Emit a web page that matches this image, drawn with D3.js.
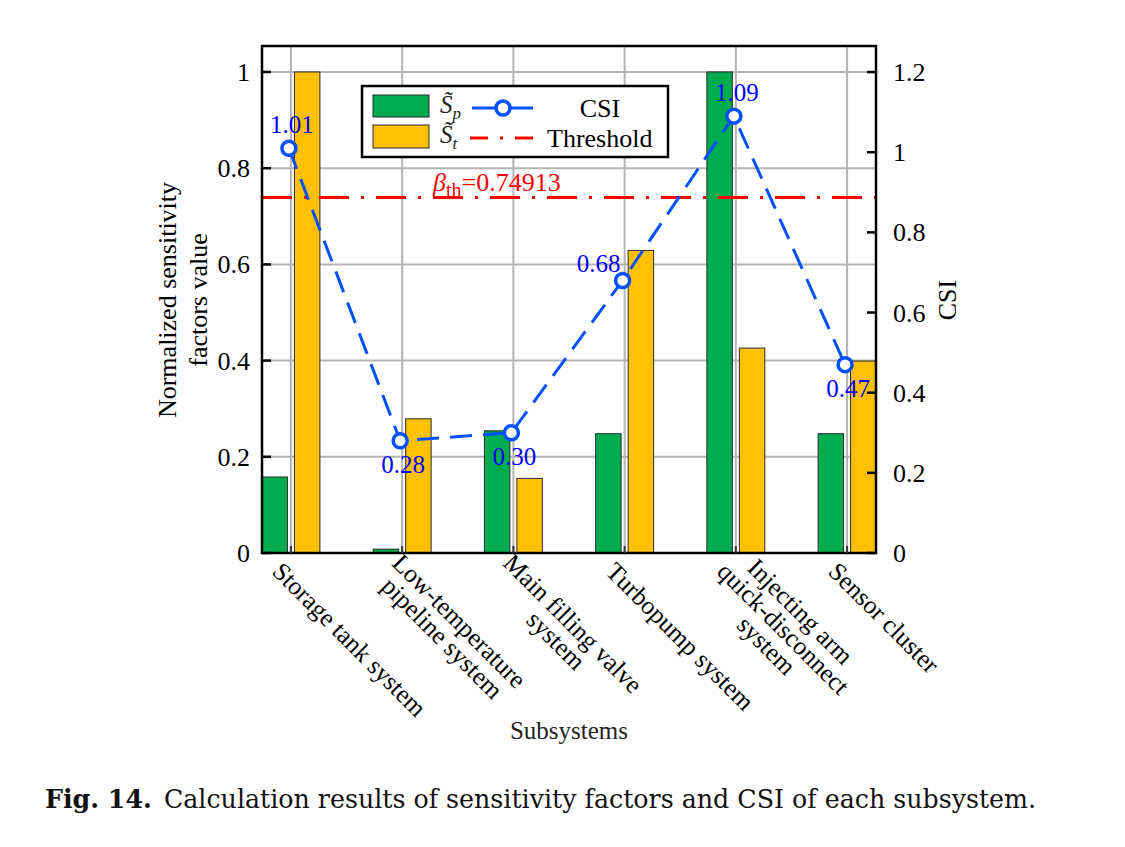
<!DOCTYPE html>
<html>
<head>
<meta charset="utf-8" />
<script src="https://d3js.org/d3.v7.min.js"></script>
<style>
body { margin: 0; background: #fff; }
svg text { font-family: "Liberation Serif", "Times New Roman", serif; }
.grid line { stroke: #b4b4b4; stroke-width: 2px; }
.bar { stroke: #2b2b2b; stroke-width: 1px; }
</style>
</head>
<body>
<script>
// chart data
var categories = ["Storage tank system", "Low-temperature\npipeline system", "Main filling valve\nsystem",
                  "Turbopump system", "Injecting arm\nquick-disconnect\nsystem", "Sensor cluster"];
var sp = [0.158, 0.008, 0.254, 0.248, 1.0, 0.248];
var st = [1.0, 0.279, 0.155, 0.629, 0.426, 0.399];
var csi = [1.01, 0.28, 0.30, 0.68, 1.09, 0.47];
var csiLabelSide = ["above", "below", "below", "left", "above", "below"];
var leftTicks = [0, 0.2, 0.4, 0.6, 0.8, 1];
var rightTicks = [0, 0.2, 0.4, 0.6, 0.8, 1, 1.2];
var thresholdLevel = 0.739;   // where the line sits on the left axis
var thresholdText = "0.74913";

var W = 1125, H = 847;
var pL = 262, pR = 876, pT = 46, pB = 553;

var svg = d3.select("body").append("svg")
    .attr("width", W).attr("height", H);

var x = d3.scaleLinear().domain([0.74, 6.26]).range([pL, pR]);
var yL = d3.scaleLinear().domain([0, 1.054]).range([pB, pT]);
var yR = d3.scaleLinear().domain([0, 1.265]).range([pB, pT]);
var idx = categories.map(function(d, i) { return i + 1; });

// grid
var grid = svg.append("g").attr("class", "grid");
grid.selectAll(".h").data(leftTicks.slice(1)).enter().append("line")
    .attr("x1", pL).attr("x2", pR)
    .attr("y1", function(d) { return yL(d); }).attr("y2", function(d) { return yL(d); });
grid.selectAll(".v").data(idx).enter().append("line")
    .attr("y1", pT).attr("y2", pB)
    .attr("x1", function(d) { return x(d); }).attr("x2", function(d) { return x(d); });

// bars
var bw = 0.229, off = 0.146;
svg.selectAll(".sp").data(sp).enter().append("rect")
    .attr("class", "bar").attr("fill", "#00ad4e")
    .attr("x", function(d, i) { return x(i + 1 - off - bw / 2); })
    .attr("width", x(bw) - x(0))
    .attr("y", function(d) { return yL(d); })
    .attr("height", function(d) { return pB - yL(d); });
svg.selectAll(".st").data(st).enter().append("rect")
    .attr("class", "bar").attr("fill", "#ffc000")
    .attr("x", function(d, i) { return x(i + 1 + off - bw / 2); })
    .attr("width", x(bw) - x(0))
    .attr("y", function(d) { return yL(d); })
    .attr("height", function(d) { return pB - yL(d); });

// threshold
svg.append("line")
    .attr("x1", pL).attr("x2", pR)
    .attr("y1", yL(thresholdLevel)).attr("y2", yL(thresholdLevel))
    .attr("stroke", "#ff0000").attr("stroke-width", 3)
    .attr("stroke-dasharray", "30,12,3,12");
var bt = svg.append("text").attr("x", 433).attr("y", yL(thresholdLevel) - 7)
    .attr("fill", "#ff0000").style("font-size", "26px");
bt.append("tspan").style("font-style", "italic").text("\u03B2");
bt.append("tspan").attr("dy", 6).style("font-size", "20px").text("th");
bt.append("tspan").attr("dy", -6).text("=" + thresholdText);

// CSI line
var csiColor = "#0050ff";
var line = d3.line().x(function(d, i) { return x(i + 1) - 2; }).y(function(d) { return yR(d); });
svg.append("path").datum(csi)
    .attr("d", line).attr("fill", "none")
    .attr("stroke", csiColor).attr("stroke-width", 3)
    .attr("stroke-dasharray", "22,11");
svg.selectAll(".mk").data(csi).enter().append("circle")
    .attr("cx", function(d, i) { return x(i + 1) - 2; })
    .attr("cy", function(d) { return yR(d); })
    .attr("r", 7).attr("fill", "#fff")
    .attr("stroke", csiColor).attr("stroke-width", 3.5);
svg.selectAll(".lbl").data(csi).enter().append("text")
    .attr("fill", "#0000ff").style("font-size", "25px")
    .attr("text-anchor", function(d, i) { return csiLabelSide[i] == "left" ? "end" : "middle"; })
    .attr("x", function(d, i) { return csiLabelSide[i] == "left" ? x(i + 1) - 4 : x(i + 1) + 1; })
    .attr("y", function(d, i) {
      var s = csiLabelSide[i];
      if (s == "above") return yR(d) - 15;
      if (s == "below") return yR(d) + 32;
      return yR(d) - 8;
    })
    .text(function(d) { return d.toFixed(2); });

// frame and ticks
svg.append("rect").attr("x", pL).attr("y", pT)
    .attr("width", pR - pL).attr("height", pB - pT)
    .attr("fill", "none").attr("stroke", "#000").attr("stroke-width", 2.5);
svg.selectAll(".lt").data(leftTicks).enter().append("line")
    .attr("x1", pL).attr("x2", pL + 9)
    .attr("y1", function(d) { return yL(d); }).attr("y2", function(d) { return yL(d); })
    .attr("stroke", "#000").attr("stroke-width", 2.5);
svg.selectAll(".rt").data(rightTicks).enter().append("line")
    .attr("x1", pR - 9).attr("x2", pR)
    .attr("y1", function(d) { return yR(d); }).attr("y2", function(d) { return yR(d); })
    .attr("stroke", "#000").attr("stroke-width", 2.5);
svg.selectAll(".bt").data(idx).enter().append("line")
    .attr("x1", function(d) { return x(d); }).attr("x2", function(d) { return x(d); })
    .attr("y1", pB).attr("y2", pB - 7)
    .attr("stroke", "#333").attr("stroke-width", 2);

svg.selectAll(".ltl").data(leftTicks).enter().append("text")
    .attr("x", pL - 12).attr("y", function(d) { return yL(d) + 9; })
    .attr("text-anchor", "end").style("font-size", "26px")
    .text(function(d) { return d3.format("~g")(d); });
svg.selectAll(".rtl").data(rightTicks).enter().append("text")
    .attr("x", pR + 17).attr("y", function(d) { return yR(d) + 9; })
    .style("font-size", "26px")
    .text(function(d) { return d3.format("~g")(d); });

// category labels, rotated 45deg, lines centred on each other
var lineH = 24;
categories.forEach(function(c, i) {
  var lines = c.split("\n");
  var g = svg.append("g")
      .attr("transform", "translate(" + (x(i + 1) - 14) + "," + 567 + ") rotate(45)");
  var ts = lines.map(function(l, j) {
    return g.append("text").style("font-size", "25.5px")
        .attr("dominant-baseline", "central")
        .attr("y", (j - (lines.length - 1) / 2) * lineH)
        .text(l);
  });
  var widths = ts.map(function(t) { return t.node().getComputedTextLength(); });
  var mw = d3.max(widths);
  ts.forEach(function(t, j) { t.attr("x", (mw - widths[j]) / 2); });
});

// axis titles
svg.append("text").attr("transform", "translate(176,300) rotate(-90)")
    .attr("text-anchor", "middle").style("font-size", "26px").text("Normalized sensitivity");
svg.append("text").attr("transform", "translate(207,300) rotate(-90)")
    .attr("text-anchor", "middle").style("font-size", "26px").text("factors value");
svg.append("text").attr("transform", "translate(956,300) rotate(-90)")
    .attr("text-anchor", "middle").style("font-size", "26px").text("CSI");
svg.append("text").attr("x", 569).attr("y", 739)
    .attr("text-anchor", "middle").style("font-size", "25px").attr("fill", "#222").text("Subsystems");

// legend
var lg = svg.append("g");
lg.append("rect").attr("x", 362).attr("y", 86).attr("width", 306).attr("height", 71)
    .attr("fill", "#fff").attr("stroke", "#000").attr("stroke-width", 2.5);
lg.append("rect").attr("class", "bar").attr("x", 373).attr("y", 95).attr("width", 56).attr("height", 22).attr("fill", "#00ad4e");
lg.append("rect").attr("class", "bar").attr("x", 373).attr("y", 125).attr("width", 56).attr("height", 23).attr("fill", "#ffc000");
[["p", 116], ["t", 146]].forEach(function(s) {
  var t = lg.append("text").attr("x", 440).attr("y", s[1] - 3).style("font-size", "25px").attr("fill", "#222");
  t.append("tspan").style("font-style", "italic").text("S\u0303");
  t.append("tspan").attr("dy", 6).style("font-size", "17px").style("font-style", "italic").text(s[0]);
});
lg.append("line").attr("x1", 472).attr("x2", 533).attr("y1", 108).attr("y2", 108)
    .attr("stroke", csiColor).attr("stroke-width", 3);
lg.append("circle").attr("cx", 503).attr("cy", 108).attr("r", 7).attr("fill", "#fff")
    .attr("stroke", csiColor).attr("stroke-width", 3.5);
lg.append("text").attr("x", 600).attr("y", 117).attr("text-anchor", "middle").style("font-size", "26px").text("CSI");
lg.append("line").attr("x1", 470).attr("x2", 540).attr("y1", 138).attr("y2", 138)
    .attr("stroke", "#ff0000").attr("stroke-width", 3).attr("stroke-dasharray", "18,12,3,12");
lg.append("text").attr("x", 547).attr("y", 147).style("font-size", "26px").text("Threshold");

// caption
var cap = svg.append("text").attr("x", 45).attr("y", 808).style("font-size", "25.3px")
    .style("font-family", "'DejaVu Serif', serif").attr("fill", "#111");
cap.append("tspan").style("font-weight", "bold").text("Fig. 14.");
cap.append("tspan").attr("dx", 12).text("Calculation results of sensitivity factors and CSI of each subsystem.");
</script>
</body>
</html>
